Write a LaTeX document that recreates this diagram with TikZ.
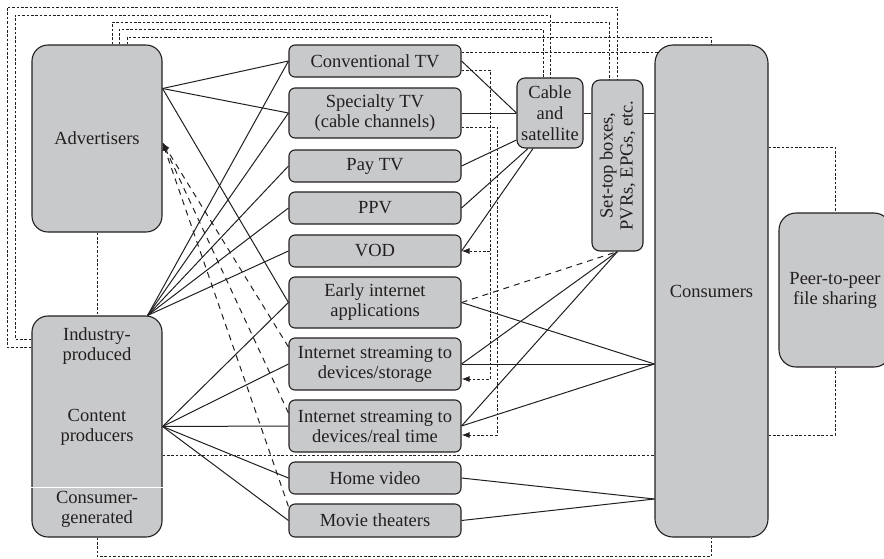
\documentclass[tikz,border=0pt]{standalone}
\usepackage{fontspec}
\setmainfont{Liberation Serif}
\usetikzlibrary{arrows.meta,calc}
\definecolor{boxgray}{HTML}{C8C9CB}
\definecolor{ink}{HTML}{231F20}
\begin{document}
\begin{tikzpicture}[x=1pt,y=-1pt,
  every node/.style={text=ink, font=\fontsize{18.5}{20}\selectfont},
  box/.style={draw=ink, fill=boxgray, line width=1.1pt, rounded corners=6pt,
    inner sep=0pt, align=center},
  midbox/.style={box, minimum width=172pt},
  bigbox/.style={box, rounded corners=16pt},
  link/.style={draw=ink, line width=1pt},
  dotlink/.style={draw=ink, line width=1pt, dash pattern=on 2.6pt off 1.8pt},
  dashlink/.style={draw=ink, line width=1pt, dash pattern=on 6pt off 5pt},
  tip/.style={-{Latex[length=8pt,width=6pt]}},
  label/.style={align=center}
]
\clip (0,0) rectangle (884,558);

% ---------- left column ----------
\node[bigbox, minimum width=130pt, minimum height=187pt] (adv) at (97,138.5) {Advertisers};
\node[bigbox, minimum width=130pt, minimum height=221pt] (prod) at (97,426.5) {};
\draw[white, line width=1pt] ([yshift=-60.5pt]prod.west) -- ([yshift=-60.5pt]prod.east);
\node[label] (indtxt) at (97,346) {Industry-\\produced};
\node[label] (contxt) at (97,427) {Content\\producers};
\node[label] (cgtxt) at (97,509) {Consumer-\\generated};

% ---------- distribution windows ----------
\node[midbox, minimum height=32pt] (conv)  at (375,61)    {Conventional TV};
\node[midbox, minimum height=50pt] (spec)  at (375,113)   {Specialty TV\\(cable channels)};
\node[midbox, minimum height=32pt] (pay)   at (375,166)   {Pay TV};
\node[midbox, minimum height=32pt] (ppv)   at (375,208)   {PPV};
\node[midbox, minimum height=32pt] (vod)   at (375,251)   {VOD};
\node[midbox, minimum height=51pt] (early) at (375,302.5) {Early internet\\applications};
\node[midbox, minimum height=52pt] (stor)  at (375,364)   {Internet streaming to\\devices/storage};
\node[midbox, minimum height=52pt] (real)  at (375,426)   {Internet streaming to\\devices/real time};
\node[midbox, minimum height=32pt] (home)  at (375,478)   {Home video};
\node[midbox, minimum height=33pt] (movie) at (375,520.5) {Movie theaters};

% ---------- carriers, devices, audience ----------
\node[box, rounded corners=8pt, minimum width=66pt, minimum height=70pt,
      font=\fontsize{18.5}{21}\selectfont] (cable) at (550,113) {Cable\\and\\satellite};
\node[box, rounded corners=8pt, minimum width=51pt, minimum height=171pt] (stb) at (617.5,165.5) {};
\node[label, rotate=90] (stbtxt) at (stb.center) {Set-top boxes,\\PVRs, EPGs, etc.};
\node[bigbox, rounded corners=18pt, minimum width=113pt, minimum height=492pt] (cons) at (711.5,291) {Consumers};
\node[bigbox, rounded corners=17pt, minimum width=112pt, minimum height=154pt] (peer) at (835,290) {Peer-to-peer\\file sharing};

% ---------- dotted feedback loops along the top ----------
\draw[dotlink] ([yshift=79.5pt]prod.west) -- (7,347) -- (7,7) -| (stb.north);
\draw[dotlink] ([yshift=87.5pt]prod.west) -- (15,339) -- (15,15) -| (cable.north);
\draw[dotlink] ([xshift=15pt]adv.north) -- ++(0,-22) -| ([xshift=-8pt]stb.north);
\draw[dotlink] ([xshift=22pt]adv.north) -- ++(0,-15) -| ([xshift=-7pt]cable.north);
\draw[dotlink] ([xshift=30pt]adv.north) -- ++(0,-7) -| (cons.north);
\draw[dotlink] ([yshift=9pt]conv.east) -- (659,52);

% ---------- dotted links into the on-demand windows ----------
\coordinate (busA) at (490,379);
\coordinate (busB) at (497,435);
\draw[dotlink, tip] ([yshift=-9pt]conv.east) -| (busA) -- ([yshift=-15pt]stor.east);
\draw[dotlink, tip] (490,251) -- (vod.east);
\draw[dotlink, tip] ([yshift=-14pt]spec.east) -| (busB) -- ([yshift=-9pt]real.east);

% ---------- other dotted links ----------
\draw[dotlink] (adv.south) -- (prod.north);
\draw[dotlink] (prod.south) -- ++(0,19) -| (cons.south);
\draw[dotlink] ([yshift=-28.5pt]prod.east) -- ([yshift=-28.5pt]prod.east -| cons.west);
\draw[dotlink] ([yshift=144pt]cons.east) -| (peer.north);
\draw[dotlink] ([yshift=-144pt]cons.east) -| (peer.south);

% ---------- dashed returns to advertisers ----------
\coordinate (advin) at ([yshift=-4pt]adv.east);
\draw[dashlink, tip] ([yshift=17pt]stor.west) -- (advin);
\draw[dashlink, tip] ([yshift=13pt]real.west) -- (advin);
\draw[dashlink, tip] ([yshift=14pt]movie.west) -- (advin);

% ---------- solid flows from producers and advertisers ----------
\coordinate (advhub) at ([yshift=50pt]adv.east);
\coordinate (indhub) at ([xshift=-15pt]prod.north east);
\coordinate (prodhub) at (prod.east);
\foreach \t in {conv,spec,early} \draw[link] (advhub) -- (\t.west);
\foreach \t in {conv,spec,pay,ppv,vod} \draw[link] (indhub) -- (\t.west);
\foreach \t in {early,stor,real,home,movie} \draw[link] (prodhub) -- (\t.west);

% ---------- solid flows to carriers and consumers ----------
\draw[link] (conv.east) -- (cable.west);
\draw[link] (spec.east) -- (cable.west);
\draw[link] (pay.east) -- ([yshift=-27pt]cable.west);
\draw[link] (ppv.east) -- ([xshift=-22pt]cable.south);
\draw[link] (vod.east) -- ([xshift=-17pt]cable.south);
\draw[link] (cable.east) -- (cable.east -| stb.west);
\draw[link] (cable.east -| stb.east) -- (cable.east -| cons.west);

\draw[dashlink] (early.east) -- (stb.south);
\draw[link] (stor.east) -- (stb.south);
\draw[link] (real.east) -- (stb.south);

\coordinate (conshub1) at (stor.east -| cons.west);
\coordinate (conshub2) at ([yshift=-208pt]cons.west);
\foreach \t in {early,stor,real} \draw[link] (\t.east) -- (conshub1);
\foreach \t in {home,movie} \draw[link] (\t.east) -- (conshub2);
\end{tikzpicture}
\end{document}
